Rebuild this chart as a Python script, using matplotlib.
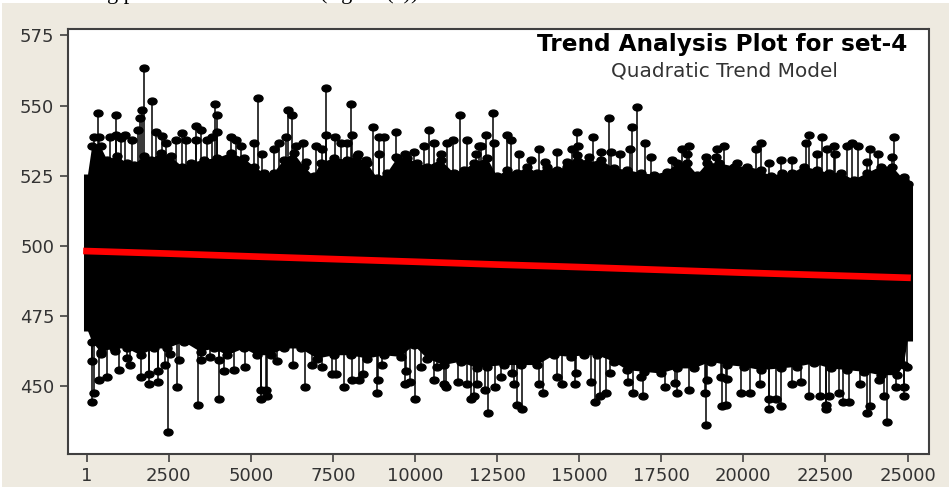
import numpy as np
import matplotlib
matplotlib.use("Agg")
import matplotlib.pyplot as plt
from matplotlib.markers import MarkerStyle
from matplotlib.patches import Rectangle
from matplotlib.transforms import Affine2D

# values
high_x = [365, 894, 224, 386, 731, 884, 1036, 1168, 1381, 1746, 2010, 1696, 1625, 1564, 2122, 2295, 2427, 2711,
          2914, 3036, 3320, 3472, 3320, 3675, 3919, 3969, 3969, 3827, 4386, 4538, 4710, 5096, 5228, 5350, 5705,
          5857, 6060, 6131, 6243, 6385, 6598, 6669, 6974, 7177, 7299, 7299, 7562, 7735, 7938, 8040, 8090, 8263,
          8496, 8730, 8922, 9054, 8902, 9430, 9410, 9684, 9968, 10273, 10425, 10577, 10780, 10983, 11166, 11369,
          11572, 11846, 11947, 12374, 12151, 11999, 12405, 12790, 12912, 13166, 13521, 13775, 13947, 14333, 14638,
          14942, 14962, 14790, 15429, 15297, 15673, 15906, 15957, 16231, 16596, 16769, 16546, 16992, 17175, 17835,
          18119, 18342, 18292, 18870, 19205, 19408, 19154, 19814, 20393, 20525, 20778, 21134, 21489, 21895, 21996,
          22250, 22402, 22758, 22555, 22778, 23164, 23316, 23488, 23843, 24097, 23773, 24585, 24534, 24889, 25000]
high_y = [547.4, 546.8, 538.8, 538.8, 538.8, 539.4, 538.3, 539.4, 537.7, 563.3, 551.6, 548.6, 545.7, 541.5, 540.5,
          539.1, 536.7, 537.7, 540.4, 537.9, 542.7, 541.5, 537.7, 537.7, 550.5, 546.8, 540.5, 538.8, 538.8, 537.7,
          535.8, 536.7, 552.8, 532.9, 534.6, 536.7, 538.8, 548.5, 546.8, 535.8, 536.7, 529.9, 535.8, 534.7, 556.4,
          539.4, 538.8, 536.7, 536.7, 550.5, 539.4, 532.9, 530.8, 542.5, 538.8, 538.8, 532.9, 540.5, 531.7, 532.9,
          533.5, 535.8, 541.5, 536.7, 532.9, 536.7, 537.7, 546.8, 537.7, 532.9, 535.8, 547.4, 539.4, 535.8, 536.7,
          539.4, 537.7, 532.7, 530.8, 534.7, 529.9, 533.6, 529.9, 540.5, 535.8, 534.7, 538.8, 531.7, 533.6, 545.7,
          533.6, 532.7, 542.5, 549.5, 534.7, 536.7, 531.7, 530.8, 534.7, 535.8, 532.7, 531.7, 534.7, 535.8, 531.7,
          529.6, 534.7, 536.7, 529.7, 530.8, 530.8, 536.7, 539.4, 532.7, 538.8, 535.8, 534.7, 532.7, 535.8, 536.7,
          535.8, 534.7, 532.7, 529.9, 538.8, 531.7, 524.6, 522.2]

low_x = [153, 224, 153, 376, 427, 630, 854, 1005, 1310, 1219, 1645, 1899, 1899, 2173, 2173, 2376, 2487, 2528, 2751,
         2812, 3391, 3502, 3756, 4020, 4030, 4182, 4487, 4812, 5299, 5299, 5502, 5451, 5786, 6294, 6659, 6872, 7177,
         7461, 7583, 7836, 8070, 8293, 8425, 8831, 8882, 9004, 9684, 9846, 9714, 9999, 10191, 10577, 10679, 10882,
         10953, 11307, 11592, 11714, 11795, 11896, 12120, 12222, 12425, 12628, 13014, 13115, 13267, 12963, 13775,
         13907, 14313, 14485, 14861, 14911, 15368, 15480, 15622, 15805, 15937, 16485, 16647, 16952, 16891, 17611,
         17906, 17987, 18342, 18870, 18830, 18901, 19307, 19357, 19479, 19510, 19936, 20200, 20504, 20778, 20778,
         20981, 21144, 21489, 21743, 21996, 22321, 22524, 22524, 22605, 22910, 23031, 23214, 23549, 23773, 23843,
         24128, 24280, 24361, 24635, 24889, 24889, 24990]
low_y = [444.4, 447.6, 458.9, 452.4, 461.6, 453.5, 462.7, 455.7, 457.8, 460.1, 453.5, 450.9, 454.4, 451.4, 455.6,
         457.8, 433.7, 461.6, 449.8, 459.3, 443.2, 459.3, 460.5, 445.5, 459.3, 455.6, 455.7, 456.8, 445.5, 448.7,
         446.5, 448.7, 458.9, 457.8, 449.8, 457.8, 456.8, 454.5, 454.5, 449.8, 452.4, 452.4, 454.5, 447.6, 452.4,
         457.8, 450.9, 451.4, 455.6, 445.5, 456.8, 452.4, 456.8, 450.9, 449.8, 451.4, 450.9, 445.5, 446.5, 450.9,
         448.7, 440.6, 449.8, 453.5, 450.9, 443.4, 441.8, 454.8, 450.9, 447.6, 453.5, 450.9, 450.9, 454.8, 451.4,
         444.4, 446.5, 447.6, 454.8, 451.4, 447.6, 446.6, 453.5, 449.8, 451.2, 447.6, 448.7, 436.3, 447.6, 452.4,
         453.5, 442.9, 443.4, 452.6, 447.6, 447.6, 450.9, 441.8, 445.5, 445.5, 442.9, 450.9, 451.4, 446.6, 446.6,
         441.8, 443.4, 446.6, 447.6, 444.4, 444.4, 450.9, 440.6, 442.9, 452.4, 446.6, 437.4, 449.8, 449.8, 446.5, 456.8]

# edge of the solid part of the series
top_x = [173, 427, 630, 935, 1239, 1442, 1746, 1950, 2254, 2559, 2914, 3168, 3574, 3980, 4386, 4792, 5096, 5401,
         5705, 6010, 6314, 6619, 6923, 7126, 7532, 7938, 8243, 8547, 8852, 9156, 9461, 9765, 10070, 10374, 10780,
         11186, 11491, 11795, 12201, 12506, 12811, 13115, 13420, 13724, 14029, 14333, 14638, 14942, 15247, 15653,
         16059, 16465, 16871, 17277, 17683, 17987, 18292, 18598, 18901, 19256, 19712, 20118, 20525, 20829, 21184,
         21489, 21844, 22250, 22605, 22961, 23367, 23773, 24179, 24534, 24889]
top_y = [535.5, 535.5, 530.7, 531.9, 529.5, 528.9, 531.9, 530.7, 533.1, 531.9, 528.3, 529.5, 530.7, 531.3, 533.1,
         531.3, 528.3, 526, 526, 530.7, 533.1, 528.3, 524.8, 529.5, 531.3, 530.7, 531.9, 529.5, 524.2, 526, 531.3,
         531.3, 529.5, 528.3, 530.7, 526, 527.1, 529.5, 531.3, 524.8, 527.1, 526, 528.3, 526, 528.3, 527.1, 528.3,
         532.5, 529.5, 530.7, 527.7, 527.1, 526, 525.4, 526.5, 529.5, 529.5, 525.4, 529.5, 529.5, 528.3, 528.3, 527.1,
         524.8, 526, 526, 528.3, 527.1, 526, 526, 523.6, 526, 528.3, 528.3, 523.6]
bot_x = [173, 427, 833, 1239, 1645, 2051, 2457, 2965, 3472, 3878, 4284, 4792, 5198, 5604, 6010, 6517, 7025, 7532,
         8040, 8547, 9055, 9562, 9968, 10374, 10882, 11389, 11896, 12201, 12709, 13217, 13724, 14232, 14739, 15145,
         15551, 16059, 16465, 16972, 17480, 17987, 18495, 19002, 19510, 20017, 20525, 21134, 21641, 22148, 22656,
         23164, 23671, 24179, 24686, 24889]
bot_y = [465.9, 462.3, 463.5, 463.5, 461.1, 463.5, 463.5, 465.9, 462.3, 463.5, 461.1, 463.5, 461.1, 461.1,
         463.5, 463.5, 459.9, 461.1, 461.1, 459.9, 461.1, 460.5, 464.7, 459.9, 457.6, 458.8, 456.4, 457, 457.6,
         457.6, 457.6, 461.1, 460.5, 461.1, 461.1, 458.8, 455.8, 455.2, 454.6, 456.4, 456.4, 458.8, 457.6, 457,
         455.8, 456.4, 457, 458.2, 456.4, 455.8, 455.2, 454, 454, 457.6]

# first and last columns of the series
edge_x = [50, 25000]
edge_hi = [525.7, 522]
edge_lo = [469.6, 466]

trend_x = [1, 2500, 5000, 10000, 12500, 15000, 20000, 25000]
trend_y = [498.2, 497.3, 496.3, 494.4, 493.4, 492.5, 490.5, 488.7]

x_ticks = [1, 2500, 5000, 7500, 10000, 12500, 15000, 17500, 20000, 22500, 25000]
y_ticks = [450, 475, 500, 525, 550, 575]

W, H = 949, 488
fig = plt.figure(figsize=(W / 100, H / 100), dpi=100, facecolor="white")
fig.add_artist(Rectangle((2 / W, 1 / H), 1, 484 / H, transform=fig.transFigure, color="#eeeae0", lw=0, zorder=-1))

# text cut by the top edge of the picture
fig.text(107 / W, 1 + 1 / H, "g p", family="Liberation Serif", fontsize=16, va="baseline")
fig.text(320 / W, 1 + 1 / H, "(figure (c))", family="Liberation Serif", fontsize=16, va="baseline")

ax = fig.add_axes([67.5 / W, (H - 453.5) / H, 861 / W, 424.5 / H])
ax.set_xlim(-578, 25639)
ax.set_ylim(426.1, 577.3)

dot = MarkerStyle("o", transform=Affine2D().scale(1.25, 0.95))

outline_x = edge_x[:1] + top_x + edge_x[1:] + edge_x[1:] + bot_x[::-1] + edge_x[:1]
outline_y = edge_hi[:1] + top_y + edge_hi[1:] + edge_lo[1:] + bot_y[::-1] + edge_lo[:1]
ax.fill(outline_x, outline_y, color="black", lw=0)
ax.vlines(edge_x, edge_lo, edge_hi, color="black", lw=6.5)
ax.plot(top_x, top_y, ls="none", marker=dot, ms=5.2, color="black")
ax.plot(bot_x, bot_y, ls="none", marker=dot, ms=5.2, color="black")
ax.vlines(high_x, 495, high_y, color="black", lw=1.1)
ax.vlines(low_x, 495, low_y, color="black", lw=1.1)
ax.plot(high_x, high_y, ls="none", marker=dot, ms=5.2, color="black")
ax.plot(low_x, low_y, ls="none", marker=dot, ms=5.2, color="black")
ax.plot(trend_x, trend_y, color="#ff0000", lw=4.8, solid_capstyle="projecting")

ax.set_xticks(x_ticks)
ax.set_yticks(y_ticks)
ax.tick_params(length=5.5, width=1.2, color="#404040", labelcolor="#333333", labelsize=13, pad=4)
for s in ax.spines.values():
    s.set_color("#404040")
    s.set_linewidth(1.5)

fig.text(722 / W, 1 - 51.5 / H, "Trend Analysis Plot for set-4", ha="center", va="baseline",
         fontsize=16.7, color="black", fontweight="bold")
fig.text(724 / W, 1 - 76.5 / H, "Quadratic Trend Model", ha="center", va="baseline",
         fontsize=14.4, color="#333333")

fig.savefig("out.png", dpi=100)
